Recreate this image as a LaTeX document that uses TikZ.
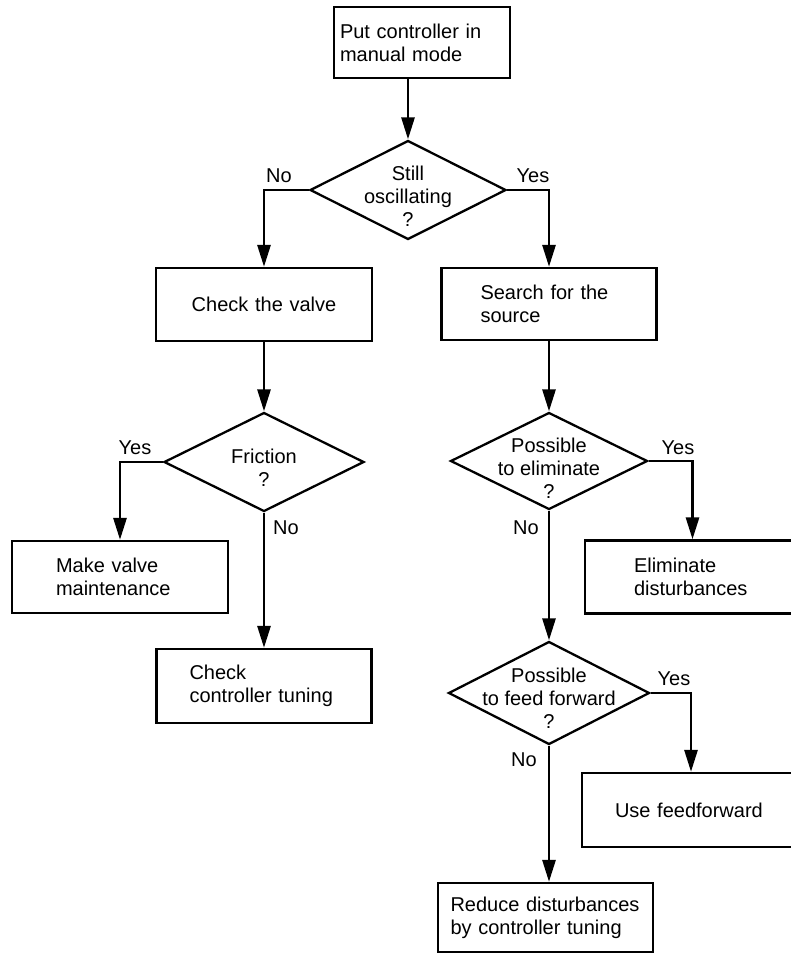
\documentclass[tikz,border=0pt]{standalone}
\usepackage{fontspec}
\setmainfont{Liberation Sans}
\usetikzlibrary{shapes.geometric,arrows.meta}
\begin{document}
\begin{tikzpicture}[x=1pt,y=-1pt,
  every node/.style={font=\fontsize{20}{23}\selectfont},
  box/.style={draw, line width=2.3pt, rectangle, align=left, inner ysep=0pt},
  dia/.style={draw, line width=2.3pt, diamond, inner sep=0pt},
  arr/.style={line width=2.8pt, -{Triangle[length=22pt,width=13pt]}},
  lab/.style={inner sep=0pt}]
\useasboundingbox (0,0) rectangle (791,953);

% boxes
\node[box, text width=164pt, inner xsep=6pt, minimum height=71pt] (top) at (422,42.5) {Put controller in\\manual mode};
\node[box, text width=196pt, inner xsep=10pt, minimum height=73pt, align=center] (cv) at (264,304.5) {Check the valve};
\node[box, text width=137pt, inner xsep=39pt, minimum height=72pt] (sf) at (549,304) {Search for the\\source};
\node[box, text width=128pt, inner xsep=44pt, minimum height=72pt] (mvm) at (120,577) {Make valve\\maintenance};
\node[box, text width=149pt, inner xsep=33pt, minimum height=74pt] (cct) at (264,686) {Check\\controller tuning};
\node[box, text width=117pt, inner xsep=49pt, minimum height=73pt] (elim) at (692.5,577) {Eliminate\\disturbances};
\node[box, text width=152pt, inner xsep=33pt, minimum height=74pt] (uf) at (691,810) {Use feedforward};
\node[box, text width=190pt, inner xsep=12.5pt, minimum height=69pt] (red) at (545.5,917.5) {Reduce disturbances\\by controller tuning};

% diamonds
\node[dia, minimum width=196pt, minimum height=99pt] (d1) at (408,190) {};
\node[align=center] (d1t) at ([yshift=-6pt]d1.center) {Still\\oscillating\\?};
\node[dia, minimum width=200pt, minimum height=99pt] (fr) at (264,462) {};
\node[align=center] (frt) at ([yshift=-6pt]fr.center) {Friction\\?};
\node[dia, minimum width=197pt, minimum height=97pt] (el) at (549,461) {};
\node[align=center] (elt) at ([yshift=-7pt]el.center) {Possible\\to eliminate\\?};
\node[dia, minimum width=201pt, minimum height=103pt] (ff) at (549,693) {};
\node[align=center] (fft) at ([yshift=-5pt]ff.center) {Possible\\to feed forward\\?};

% connectors
\draw[arr] (d1.north |- top.south) -- (d1.north);
\draw[arr] (d1.west) -| (cv.north);
\draw[arr] (d1.east) -| (sf.north);
\draw[arr] (cv.south) -- (fr.north);
\draw[arr] (fr.west) -| (mvm.north);
\draw[arr] (fr.south) -- (cct.north);
\draw[arr] (sf.south) -- (el.north);
\draw[arr] (el.east) -| (elim.north);
\draw[arr] (el.south) -- (ff.north);
\draw[arr] (ff.east) -| (uf.north);
\draw[arr] (ff.south) -- (ff.south |- red.north);

% labels
\node[lab] (no1) at (279,176) {No};
\node[lab] (yes1) at (533,176) {Yes};
\node[lab] (yes2) at (135,448) {Yes};
\node[lab] (no2) at (286,528) {No};
\node[lab] (yes3) at (678,448) {Yes};
\node[lab] (no3) at (526,528) {No};
\node[lab] (yes4) at (674,679) {Yes};
\node[lab] (no4) at (524,760) {No};
\end{tikzpicture}
\end{document}
